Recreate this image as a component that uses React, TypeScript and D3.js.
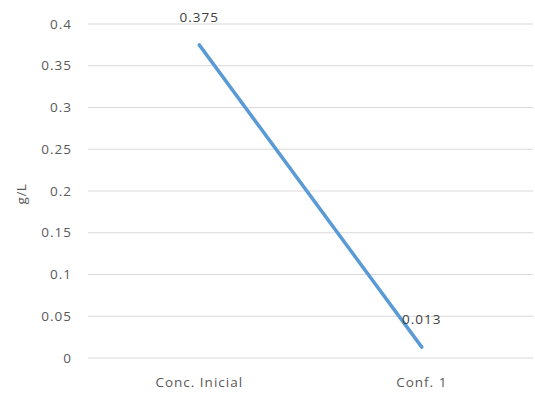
import React from "react";
import * as d3 from "d3";

const categories = ["Conc. Inicial", "Conf. 1"];
const values = [0.375, 0.013];
const yTicks = [0, 0.05, 0.1, 0.15, 0.2, 0.25, 0.3, 0.35, 0.4];
const yTitle = "g/L";

const W = 535;
const H = 394;
const margin = { left: 88, right: 2, top: 24, bottom: 36 };
const font = "'Open Sans', 'Noto Sans', sans-serif";
const textColor = "#595959";

export default function App() {
  const x = d3
    .scaleBand<string>()
    .domain(categories)
    .range([margin.left, W - margin.right]);
  const y = d3
    .scaleLinear()
    .domain([0, 0.4])
    .range([H - margin.bottom, margin.top]);

  const cx = (i: number) => (x(categories[i]) as number) + x.bandwidth() / 2;

  const line = d3
    .line<number>()
    .x((_, i) => cx(i))
    .y((d) => y(d));

  return (
    <svg
      width={W}
      height={H}
      style={{ position: "absolute", left: 0, top: 0, background: "#fff" }}
      fontFamily={font}
    >
      {yTicks.map((t) => (
        <g key={t}>
          <line
            x1={margin.left}
            x2={W - margin.right}
            y1={y(t)}
            y2={y(t)}
            stroke="#d9d9d9"
            strokeWidth={1.2}
          />
          <text
            x={72}
            y={y(t)}
            dy="0.35em"
            textAnchor="end"
            fontSize={13.5}
            letterSpacing={1}
            fill={textColor}
          >
            {String(t)}
          </text>
        </g>
      ))}
      <text
        transform={`translate(21, ${(y(0) + y(0.4)) / 2 + 3}) rotate(-90)`}
        textAnchor="middle"
        dy="0.35em"
        fontSize={13.5}
        letterSpacing={0.5}
        fill={textColor}
      >
        {yTitle}
      </text>
      {categories.map((c, i) => (
        <text
          key={c}
          x={cx(i)}
          y={y(0) + 24}
          dy="0.35em"
          textAnchor="middle"
          fontSize={13.5}
          letterSpacing={1}
          fill={textColor}
        >
          {c}
        </text>
      ))}
      <path
        d={line(values) || ""}
        fill="none"
        stroke="#5b9bd5"
        strokeWidth={3.5}
        strokeLinecap="round"
      />
      {values.map((v, i) => (
        <text
          key={i}
          x={cx(i)}
          y={y(v) - 28}
          dy="0.35em"
          textAnchor="middle"
          fontSize={13.5}
          letterSpacing={1}
          fill="#404040"
        >
          {String(v)}
        </text>
      ))}
    </svg>
  );
}
